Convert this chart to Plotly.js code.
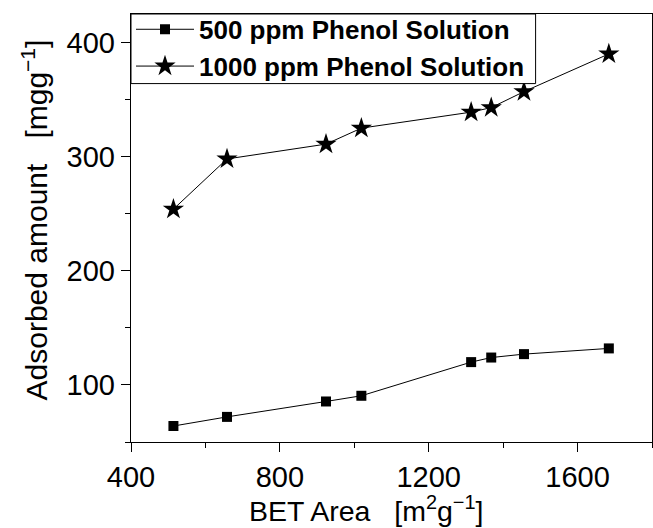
<!DOCTYPE html>
<html>
<head>
<meta charset="utf-8">
<script src="https://cdn.plot.ly/plotly-3.0.1.min.js"></script>
<style>html,body{margin:0;padding:0;background:#fff;}#chart{width:653px;height:528px;}</style>
</head>
<body>
<div id="chart"></div>
<script>
const betArea = [514, 658, 924, 1019, 1314, 1368, 1456, 1684];
const ads500 = [64, 72, 85.5, 90.5, 120, 124, 127, 132];
const ads1000 = [254, 298, 311, 325, 339, 343, 357, 390];
const seriesNames = ['500 ppm Phenol Solution', '1000 ppm Phenol Solution'];
const xTicks = [400, 800, 1200, 1600];
const yTicks = [100, 200, 300, 400];
const xTitle = 'BET Area   [m<sup>2</sup>g<sup>\u22121</sup>]';
const yTitle = 'Adsorbed amount   [mgg<sup>\u22121</sup>]';

const font = '"Liberation Sans", Arial, sans-serif';
const traces = [
  {x: betArea, y: ads500, name: seriesNames[0], type: 'scatter', mode: 'lines+markers',
   line: {color: '#000', width: 1}, marker: {symbol: 'square', size: 10, color: '#000'}},
  {x: betArea, y: ads1000, name: seriesNames[1], type: 'scatter', mode: 'lines+markers',
   line: {color: '#000', width: 1}, marker: {symbol: 'star', size: 16, color: '#000'}}
];
const layout = {
  width: 653, height: 528,
  margin: {l: 131, r: 1, t: 14, b: 86, pad: 0},
  paper_bgcolor: '#fff', plot_bgcolor: '#fff',
  font: {family: font, color: '#000', size: 28},
  showlegend: true,
  legend: {x: 0, y: 1.019, xanchor: 'left', yanchor: 'top', bgcolor: 'rgba(0,0,0,0)',
    borderwidth: 0, itemwidth: 58, tracegroupgap: 0,
    font: {family: font, size: 26, color: '#000', weight: 'bold'}},
  shapes: [{type: 'rect', xref: 'paper', yref: 'paper', x0: 0, x1: 0.7766, y0: 0.8374, y1: 1,
    fillcolor: '#fff', line: {color: '#000', width: 1}, layer: 'above'}],
  annotations: [
    {text: xTitle, xref: 'paper', yref: 'paper', x: 0.4506, y: -0.2033,
     xanchor: 'center', yanchor: 'bottom', showarrow: false, font: {size: 28.5}},
    {text: yTitle, xref: 'paper', yref: 'paper', x: -0.184, y: 0.518, textangle: -90,
     xanchor: 'center', yanchor: 'middle', showarrow: false, font: {size: 30}}
  ],
  xaxis: {range: [400, 1800], tickvals: xTicks, ticktext: xTicks.map(String),
    ticks: 'outside', ticklen: 9, tickwidth: 1, tickcolor: '#000',
    showline: true, linecolor: '#000', linewidth: 1.2, mirror: true,
    showgrid: false, zeroline: false,
    minor: {dtick: 200, ticks: 'outside', ticklen: 5, tickcolor: '#000', showgrid: false},
    tickfont: {size: 29}},
  yaxis: {range: [50, 425], tickvals: yTicks, ticktext: yTicks.map(String),
    ticks: 'outside', ticklen: 9, tickwidth: 1, tickcolor: '#000',
    showline: true, linecolor: '#000', linewidth: 1.2, mirror: true,
    showgrid: false, zeroline: false,
    minor: {dtick: 50, ticks: 'outside', ticklen: 5, tickcolor: '#000', showgrid: false},
    tickfont: {size: 29}}
};
Plotly.newPlot('chart', traces, layout, {displayModeBar: false, staticPlot: true});
</script>
</body>
</html>
